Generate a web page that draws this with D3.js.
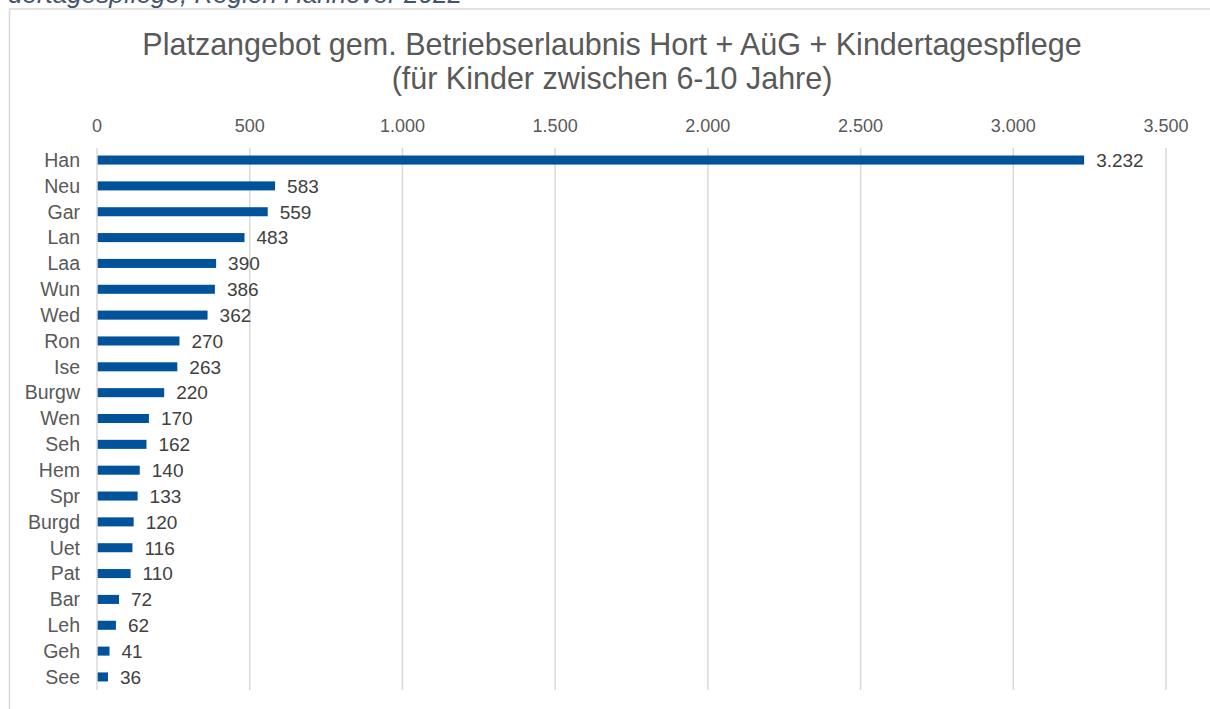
<!DOCTYPE html>
<html>
<head>
<meta charset="utf-8">
<script src="https://cdn.jsdelivr.net/npm/d3@7"></script>
<style>
  body { margin: 0; background: #fff; }
  svg { display: block; }
</style>
</head>
<body>
<div id="chart"></div>
<script>
// Data.
const categories = ["Han", "Neu", "Gar", "Lan", "Laa", "Wun", "Wed", "Ron", "Ise", "Burgw",
  "Wen", "Seh", "Hem", "Spr", "Burgd", "Uet", "Pat", "Bar", "Leh", "Geh", "See"];
const values = [3232, 583, 559, 483, 390, 386, 362, 270, 263, 220,
  170, 162, 140, 133, 120, 116, 110, 72, 62, 41, 36];
const tickValues = [0, 500, 1000, 1500, 2000, 2500, 3000, 3500];
const titleLines = [
  "Platzangebot gem. Betriebserlaubnis Hort + AüG + Kindertagespflege",
  "(für Kinder zwischen 6-10 Jahre)"
];
const captionText = "dertagespflege, Region Hannover 2022";

const width = 1210;
const height = 709;
const font = "Arial, 'Liberation Sans', sans-serif";

const svg = d3.select("#chart")
  .append("svg")
  .attr("width", width)
  .attr("height", height)
  .attr("font-family", font);

// Cut-off caption above the chart frame.
svg.append("text")
  .attr("x", 8)
  .attr("y", 3)
  .attr("fill", "#44546a")
  .attr("font-size", 26)
  .attr("font-style", "italic")
  .text(captionText);

// Chart frame (top and left edges visible).
svg.append("line")
  .attr("x1", 9).attr("x2", width)
  .attr("y1", 9).attr("y2", 9)
  .attr("stroke", "#d9d9d9").attr("stroke-width", 1.5);
svg.append("line")
  .attr("x1", 9.5).attr("x2", 9.5)
  .attr("y1", 9).attr("y2", height)
  .attr("stroke", "#d9d9d9").attr("stroke-width", 1.5);

// Title.
svg.selectAll(".title")
  .data(titleLines)
  .join("text")
  .attr("class", "title")
  .attr("x", 612)
  .attr("y", (d, i) => 55 + i * 34)
  .attr("text-anchor", "middle")
  .attr("fill", "#595959")
  .attr("font-size", 30.5)
  .text((d) => d);

// Scales.
const x = d3.scaleLinear().domain([0, 3500]).range([97, 1166]);
const y = d3.scaleBand().domain(categories).range([147, 690]).paddingInner(0.65).paddingOuter(0.33);

const fmt = (v) => d3.format(",")(v).replace(/,/g, ".");

// Gridlines.
svg.selectAll(".grid")
  .data(tickValues.slice(1))
  .join("line")
  .attr("class", "grid")
  .attr("x1", (d) => x(d)).attr("x2", (d) => x(d))
  .attr("y1", 148).attr("y2", 690)
  .attr("stroke", "#d9d9d9")
  .attr("stroke-width", 1.5);

// Top axis labels.
svg.selectAll(".tick-label")
  .data(tickValues)
  .join("text")
  .attr("class", "tick-label")
  .attr("x", (d) => x(d))
  .attr("y", 132)
  .attr("text-anchor", "middle")
  .attr("fill", "#595959")
  .attr("font-size", 18)
  .text(fmt);

// Bars.
svg.selectAll(".bar")
  .data(values)
  .join("rect")
  .attr("class", "bar")
  .attr("x", x(0))
  .attr("y", (d, i) => y(categories[i]))
  .attr("width", (d) => x(d) - x(0))
  .attr("height", y.bandwidth())
  .attr("fill", "#00539b");

// Zero axis line.
svg.append("line")
  .attr("x1", x(0)).attr("x2", x(0))
  .attr("y1", 148).attr("y2", 690)
  .attr("stroke", "#d9d9d9")
  .attr("stroke-width", 1.5);

// Category labels.
svg.selectAll(".cat")
  .data(categories)
  .join("text")
  .attr("class", "cat")
  .attr("x", 80)
  .attr("y", (d) => y(d) + y.bandwidth() / 2)
  .attr("dy", "0.35em")
  .attr("text-anchor", "end")
  .attr("fill", "#595959")
  .attr("font-size", 19.5)
  .text((d) => d);

// Value labels.
svg.selectAll(".val")
  .data(values)
  .join("text")
  .attr("class", "val")
  .attr("x", (d) => x(d) + 12)
  .attr("y", (d, i) => y(categories[i]) + y.bandwidth() / 2)
  .attr("dy", "0.36em")
  .attr("fill", "#404040")
  .attr("font-size", 19)
  .text(fmt);
</script>
</body>
</html>
